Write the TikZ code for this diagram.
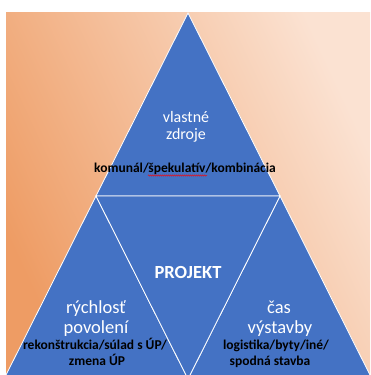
\documentclass[tikz,border=0pt]{standalone}
\usepackage{fontspec}
\setmainfont{Carlito}
\usetikzlibrary{decorations.pathmorphing}
\definecolor{tblue}{HTML}{4472C4}
\definecolor{oDark}{HTML}{EE9C64}
\definecolor{oLight}{HTML}{FBE2D2}
\begin{document}
\begin{tikzpicture}[x=1pt,y=-1pt,
  tri/.style={fill=tblue,draw=white,line width=0.8pt,line join=miter},
  lbl/.style={anchor=base,inner sep=0pt,text=white,font=\fontsize{16}{18}\selectfont},
  biglbl/.style={anchor=base,inner sep=0pt,text=white,font=\fontsize{18.5}{20}\selectfont},
  sub/.style={anchor=base,inner sep=0pt,text=black,font=\bfseries\fontsize{13.5}{15}\selectfont},
  ttl/.style={anchor=base,inner sep=0pt,text=white,font=\bfseries\fontsize{18.5}{20}\selectfont}]
\useasboundingbox (0,0) rectangle (370,375);
\shade[bottom color=oDark, top color=oLight, shading angle=-65] (6,12) rectangle (370,375);
\coordinate (apex) at (188,13);
\coordinate (ml) at (96,196);
\coordinate (mr) at (280,196);
\coordinate (bl) at (4,379);
\coordinate (bm) at (188,379);
\coordinate (br) at (372,379);
\begin{scope}
\clip (6,12) rectangle (370,375);
\path[tri] (apex) -- (ml) -- (mr) -- cycle;
\path[tri] (ml) -- (bl) -- (bm) -- cycle;
\path[tri] (mr) -- (bm) -- (br) -- cycle;
\path[tri] (ml) -- (mr) -- (bm) -- cycle;
\end{scope}
% top
\node[lbl] (t1) at (186,122) {vlastné};
\node[lbl] (t2) at (186,139) {zdroje};
\node[sub] (t3) at (185,172) {komunál/špekulatív/kombinácia};
\draw[red, line width=0.5pt, decorate, decoration={snake, amplitude=0.6pt, segment length=2pt}] (148,175.5) -- (207,175.5);
% centre
\node[ttl] (p) at (188,278) {PROJEKT};
% left
\node[biglbl] (l1) at (96,313) {rýchlosť};
\node[biglbl] (l2) at (96,333) {povolení};
\node[sub] (l3) at (95,349) {rekonštrukcia/súlad s ÚP/};
\node[sub] (l4) at (97,365) {zmena ÚP};
% right
\node[biglbl] (r1) at (279,313) {čas};
\node[biglbl] (r2) at (280,333) {výstavby};
\node[sub] (r3) at (276,349) {logistika/byty/iné/};
\node[sub] (r4) at (270,365) {spodná stavba};
\end{tikzpicture}
\end{document}
